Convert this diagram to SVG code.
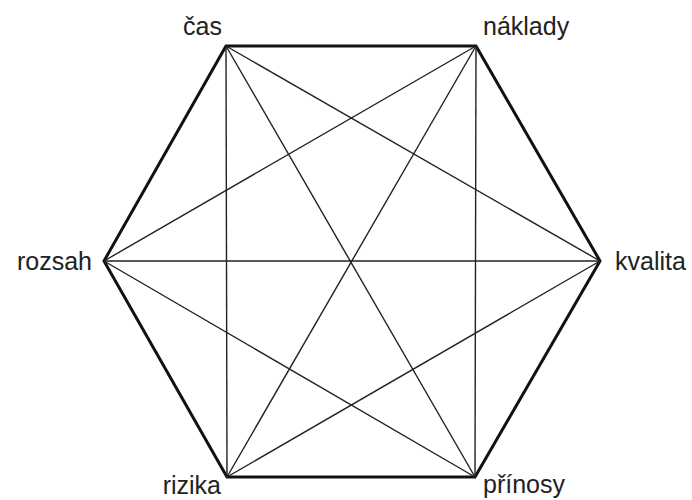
<svg xmlns="http://www.w3.org/2000/svg" width="692" height="500" viewBox="0 0 692 500">
<style>
.edge{stroke:#111;stroke-width:3;fill:none;stroke-linejoin:miter}
.diag{stroke:#222;stroke-width:1.4;fill:none}
.lbl{font-family:"Liberation Sans",Arial,sans-serif;font-size:25px;fill:#222}
</style>
<rect width="692" height="500" fill="#fff"/>
<g id="connectors">
<polygon class="edge" points="226,46 476,46 600,261 475,477 227,477 104,261"/>
<line class="diag" x1="226" y1="46" x2="227" y2="477"/>
<line class="diag" x1="226" y1="46" x2="600" y2="261"/>
<line class="diag" x1="226" y1="46" x2="475" y2="477"/>
<line class="diag" x1="476" y1="46" x2="475" y2="477"/>
<line class="diag" x1="476" y1="46" x2="104" y2="261"/>
<line class="diag" x1="476" y1="46" x2="227" y2="477"/>
<line class="diag" x1="104" y1="261" x2="600" y2="261"/>
<line class="diag" x1="104" y1="261" x2="475" y2="477"/>
<line class="diag" x1="227" y1="477" x2="600" y2="261"/>
</g>
<g id="cas"><text class="lbl" x="222" y="35" text-anchor="end">čas</text></g>
<g id="naklady"><text class="lbl" x="483" y="35">náklady</text></g>
<g id="rozsah"><text class="lbl" x="92" y="270" text-anchor="end">rozsah</text></g>
<g id="kvalita"><text class="lbl" x="615" y="270">kvalita</text></g>
<g id="rizika"><text class="lbl" x="221" y="494" text-anchor="end">rizika</text></g>
<g id="prinosy"><text class="lbl" x="483" y="493">přínosy</text></g>
</svg>
